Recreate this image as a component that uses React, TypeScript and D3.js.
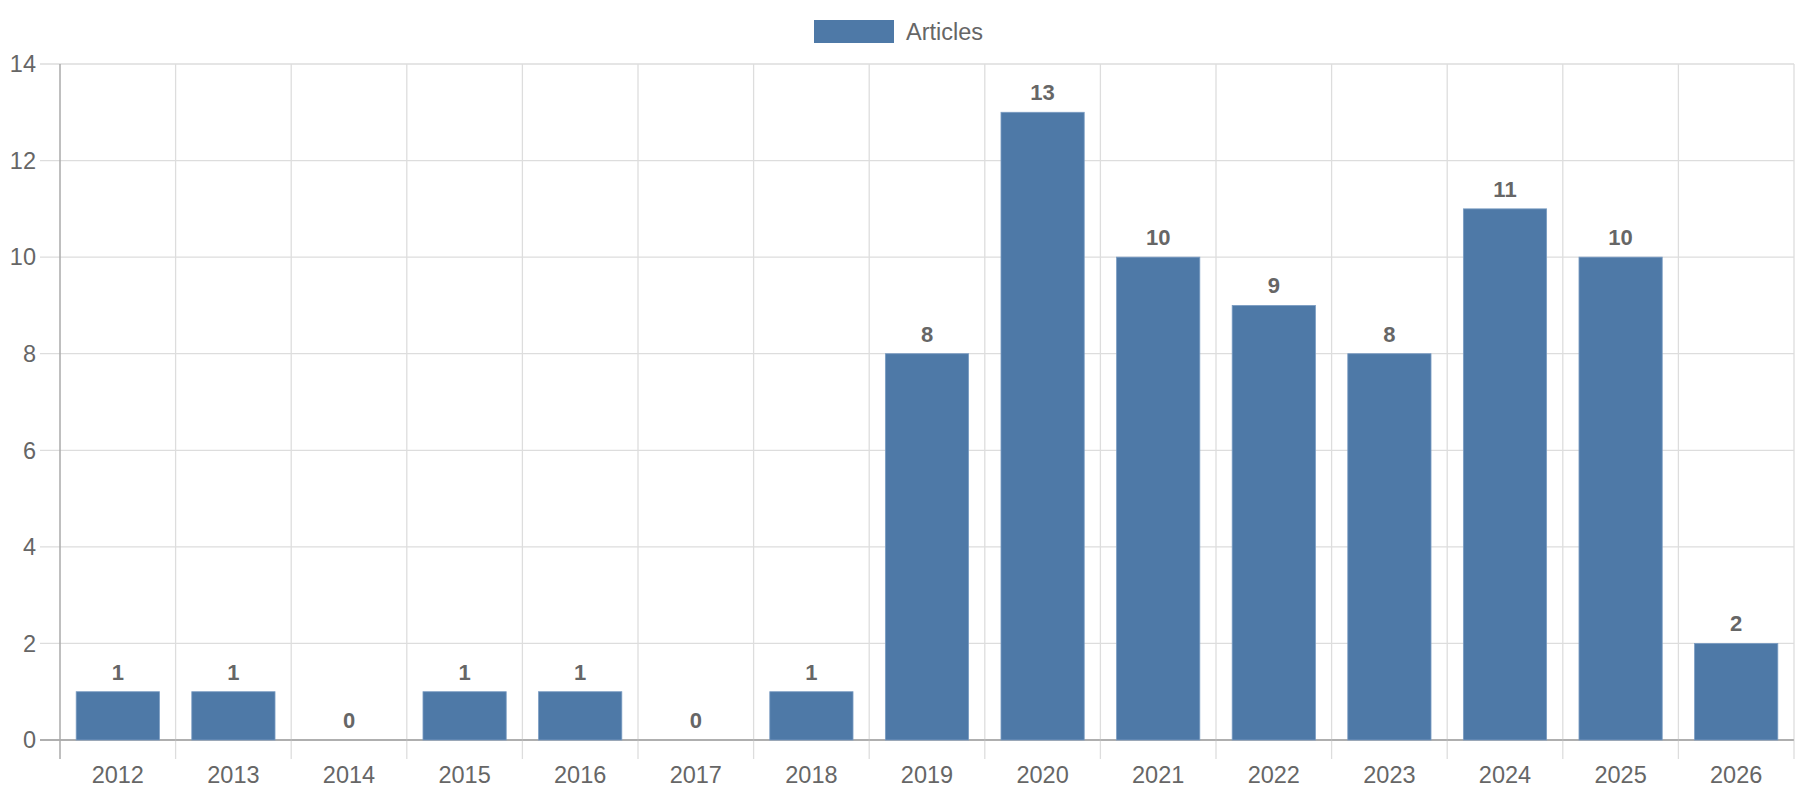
import React from "react";
import * as d3 from "d3";

const years = ["2012","2013","2014","2015","2016","2017","2018","2019","2020","2021","2022","2023","2024","2025","2026"];
const articles = [1,1,0,1,1,0,1,8,13,10,9,8,11,10,2];
const yTicks = [0,2,4,6,8,10,12,14];
const seriesName = "Articles";

const W = 1800, H = 800;
const M = { left: 60, right: 1794, top: 64, bottom: 740 };
const FONT = "'Liberation Sans', Arial, sans-serif";
const TEXT = "#666666";
const BAR = "#4e79a7";
const GRID = "#dddddd";

export default function App() {
  const x = d3.scaleBand<string>().domain(years).range([M.left, M.right]).paddingInner(0).paddingOuter(0);
  const y = d3.scaleLinear().domain([0, 14]).range([M.bottom, M.top]);
  const bw = x.bandwidth() * 0.72;
  const bounds = [...years.map((yr) => x(yr)!), M.right];

  return (
    <svg width={W} height={H} style={{ position: "absolute", left: 0, top: 0, background: "#fff" }} fontFamily={FONT}>
      {yTicks.map((t) => (
        <line key={"h" + t} x1={40} x2={M.right} y1={y(t)} y2={y(t)} stroke={t === 0 ? "#aaaaaa" : GRID} strokeWidth={t === 0 ? 1.5 : 1.3} />
      ))}
      {bounds.map((b, i) => (
        <line key={"v" + i} x1={b} x2={b} y1={M.top} y2={M.bottom + 19} stroke={i === 0 ? "#aaaaaa" : GRID} strokeWidth={i === 0 ? 1.5 : 1.3} />
      ))}
      <line x1={40} x2={M.right} y1={M.bottom} y2={M.bottom} stroke="#aaaaaa" strokeWidth={1.5} />
      {yTicks.map((t) => (
        <text key={"yl" + t} x={36} y={y(t)} dy="0.35em" textAnchor="end" fontSize={23.5} fill={TEXT}>{t}</text>
      ))}
      {years.map((yr) => (
        <text key={"xl" + yr} x={x(yr)! + x.bandwidth() / 2} y={783} textAnchor="middle" fontSize={23.5} fill={TEXT}>{yr}</text>
      ))}
      {years.map((yr, i) => {
        const cx = x(yr)! + x.bandwidth() / 2;
        const v = articles[i];
        return (
          <g key={"b" + yr}>
            {v > 0 && (
              <rect x={cx - bw / 2} y={y(v)} width={bw} height={y(0) - y(v)} fill={BAR} stroke="#7a9cc2" strokeWidth={0.8} />
            )}
            <text x={cx} y={y(v) - 12} textAnchor="middle" fontSize={22} fontWeight="bold" fill={TEXT}>{v}</text>
          </g>
        );
      })}
      <rect x={814} y={20} width={80} height={23} fill={BAR} />
      <text x={906} y={39.5} fontSize={23.5} fill={TEXT}>{seriesName}</text>
    </svg>
  );
}
